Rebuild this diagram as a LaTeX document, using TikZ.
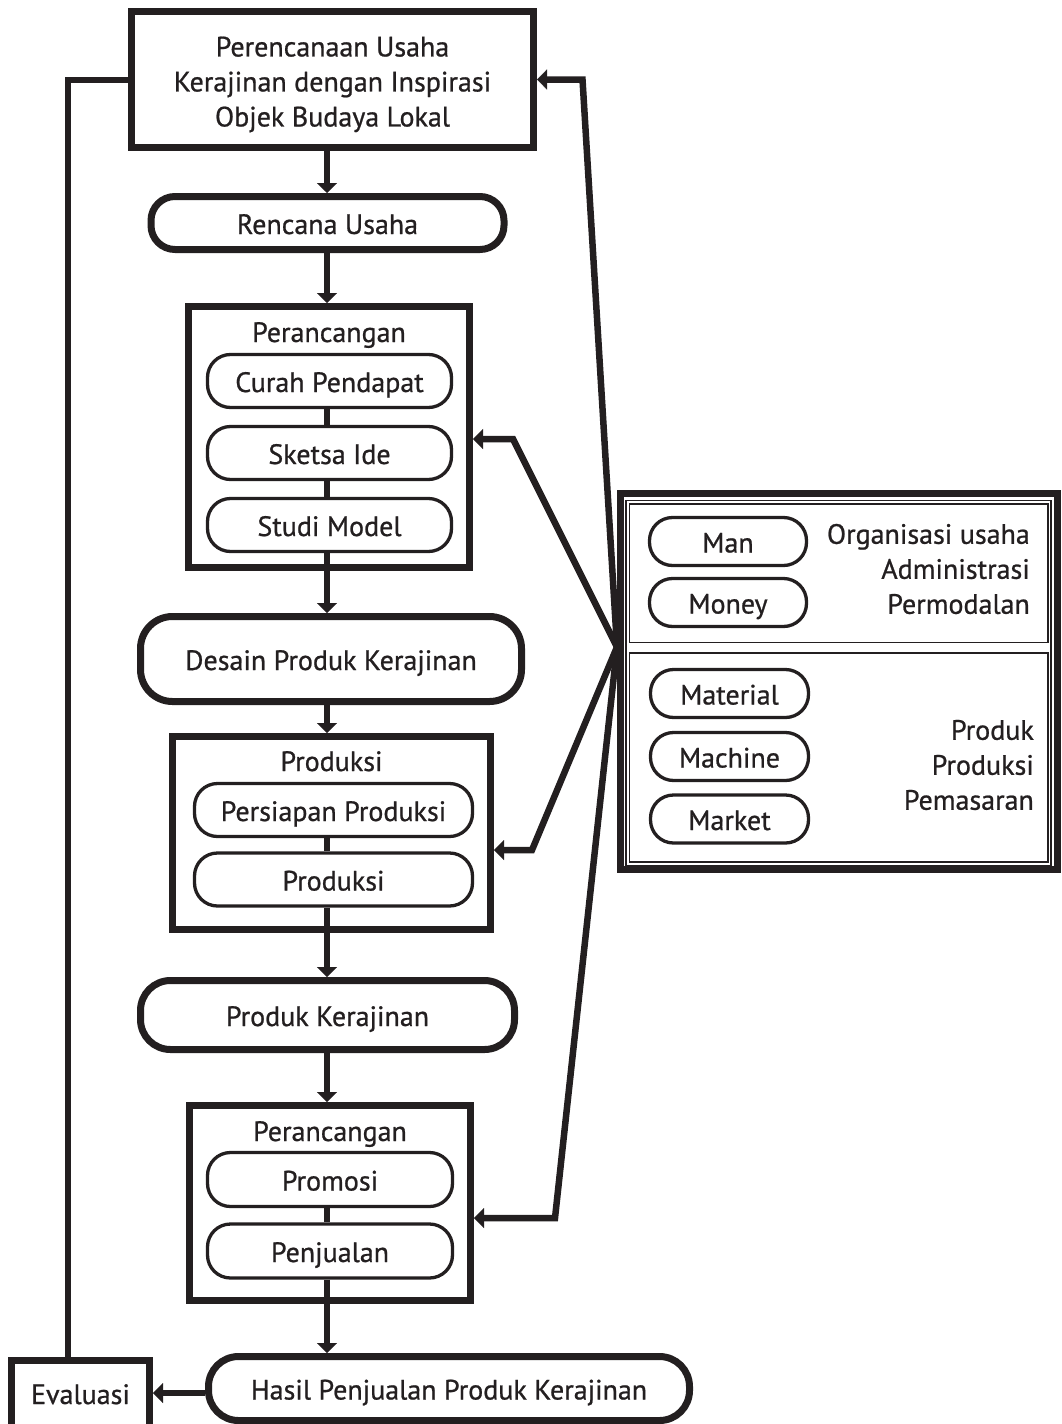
\documentclass[tikz,border=0pt]{standalone}
\usepackage{fontspec}
\setmainfont{PT Sans}[BoldFont={PT Sans}, BoldFeatures={FakeBold=0.8}]
\usetikzlibrary{arrows.meta,calc}
\definecolor{ink}{HTML}{231F20}
\tikzset{
  base/.style={draw=ink, text=ink, inner sep=0pt, align=center, font=\fontsize{28}{35}\selectfont\bfseries},
  one/.style={text height=24pt, text depth=2pt},
  bigbox/.style={base, line width=7pt, rectangle},
  bigpill/.style={base, one, line width=7pt, rounded corners=#1},
  bigpill/.default=26pt,
  smallpill/.style={base, one, line width=3.3pt, rounded corners=23pt},
  thinrect/.style={draw=ink, line width=#1, inner sep=0pt, outer sep=0pt},
  txt/.style={text=ink, inner sep=0pt, font=\fontsize{28}{35}\selectfont\bfseries},
  conn/.style={draw=ink, line width=6.5pt},
  arr/.style={conn, -{Triangle[length=10pt,width=20pt,line width=0.1pt]}}
}
\begin{document}
\begin{tikzpicture}[x=1pt,y=-1pt]
\useasboundingbox (0,0) rectangle (1061,1424);
\begin{scope}
\clip (0,0) rectangle (1061,1424);
% axis and helper coordinates
\coordinate (ax) at (327,0);
\coordinate (fb) at (68,80);
\coordinate (hub) at (617,647);
\coordinate (b1) at (582.5,79.5);
\coordinate (b2) at (513,439);
\coordinate (b3) at (532,850);
\coordinate (b4) at (555,1218);

% main column
\node[bigbox, minimum width=402pt, minimum height=136pt] (top) at (332.5,79.5) {};
\node[txt, align=center] (topt) at (332.5,84.5)
  {Perencanaan Usaha\\Kerajinan dengan Inspirasi\\Objek Budaya Lokal};
\node[bigpill=24pt, minimum width=353pt, minimum height=53pt] (rencana) at (327.5,223) {Rencana Usaha};

\node[bigbox, minimum width=281pt, minimum height=261pt] (perc1) at (329,437) {};
\node[txt, one] (perc1t) at (329,331) {Perancangan};
\node[smallpill, minimum width=244pt, minimum height=53pt] (curah) at (329.5,381) {Curah Pendapat};
\node[smallpill, minimum width=244pt, minimum height=53pt] (sketsa) at (329.5,453) {Sketsa Ide};
\node[smallpill, minimum width=244pt, minimum height=53pt] (studi) at (329.5,525) {Studi Model};

\node[bigpill=32pt, minimum width=381pt, minimum height=85pt] (desain) at (331,659) {Desain Produk Kerajinan};

\node[bigbox, minimum width=318pt, minimum height=193pt] (prodbox) at (331.5,833) {};
\node[txt, one] (prodt) at (331.5,760) {Produksi};
\node[smallpill, minimum width=278pt, minimum height=53pt] (persiapan) at (333.5,810) {Persiapan Produksi};
\node[smallpill, minimum width=278pt, minimum height=53pt] (prodin) at (333.5,879.5) {Produksi};

\node[bigpill=30pt, minimum width=374pt, minimum height=69pt] (produk) at (327.5,1015) {Produk Kerajinan};

\node[bigbox, minimum width=281pt, minimum height=195pt] (perc2) at (330,1203) {};
\node[txt, one] (perc2t) at (330,1130) {Perancangan};
\node[smallpill, minimum width=245pt, minimum height=54pt] (promosi) at (330,1179.5) {Promosi};
\node[smallpill, minimum width=245pt, minimum height=54pt] (penjualan) at (330,1251) {Penjualan};

\node[bigpill=30pt, minimum width=481pt, minimum height=64pt] (hasil) at (449,1388.5) {Hasil Penjualan Produk Kerajinan};
\node[bigbox, minimum width=138pt, minimum height=70pt] (evalbox) at (80.5,1395.5) {};
\node[txt, one] (evalt) at (80.5,1393) {Evaluasi};

% right box
\node[bigbox, minimum width=437pt, minimum height=376pt] (rbox) at (839,681.5) {};
\node[thinrect=1.2pt, minimum width=425pt, minimum height=365pt] (thinA) at (838.5,683) {};
\node[thinrect=1.5pt, minimum width=418.5pt, minimum height=138.5pt] (upper) at (838.75,573.25) {};
\node[thinrect=1.5pt, minimum width=418.5pt, minimum height=209pt] (lower) at (838.75,757.5) {};

\node[smallpill, minimum width=157pt, minimum height=48pt] (man) at (728,541.5) {Man};
\node[smallpill, minimum width=157pt, minimum height=48pt] (money) at (728,602.5) {Money};
\node[smallpill, minimum width=158pt, minimum height=48pt] (material) at (729.5,693.5) {Material};
\node[smallpill, minimum width=158pt, minimum height=48pt] (machine) at (729.5,756.5) {Machine};
\node[smallpill, minimum width=158pt, minimum height=48pt] (market) at (729.5,819) {Market};

\node[txt, align=right, anchor=east] (orgt) at (1030,569) {Organisasi usaha\\Administrasi\\Permodalan};
\node[txt, align=right, anchor=east] (prodt2) at (1034,765) {Produk\\Produksi\\Pemasaran};

% connectors in main column
\draw[arr] (top.south -| ax) -- (rencana.north -| ax);
\draw[arr] (rencana.south -| ax) -- (perc1.north -| ax);
\draw[conn] (curah.south -| ax) -- (sketsa.north -| ax);
\draw[conn] (sketsa.south -| ax) -- (studi.north -| ax);
\draw[arr] (studi.south -| ax) -- (desain.north -| ax);
\draw[arr] (desain.south -| ax) -- (prodbox.north -| ax);
\draw[conn] (persiapan.south -| ax) -- (prodin.north -| ax);
\draw[arr] (prodin.south -| ax) -- (produk.north -| ax);
\draw[arr] (produk.south -| ax) -- (perc2.north -| ax);
\draw[conn] (promosi.south -| ax) -- (penjualan.north -| ax);
\draw[arr] (penjualan.south -| ax) -- (hasil.north -| ax);
\draw[arr] (hasil.west |- evalt) -- (evalbox.east |- evalt);

% feedback
\draw[conn] (evalbox.north -| fb) -- (fb) -- (top.west |- fb);

% fan from right box
\draw[arr] (hub) -- (b1) -- (top.east |- b1);
\draw[arr] (hub) -- (b2) -- (perc1.east |- b2);
\draw[arr] (hub) -- (b3) -- (prodbox.east |- b3);
\draw[arr] (hub) -- (b4) -- (perc2.east |- b4);
\end{scope}
\end{tikzpicture}
\end{document}
